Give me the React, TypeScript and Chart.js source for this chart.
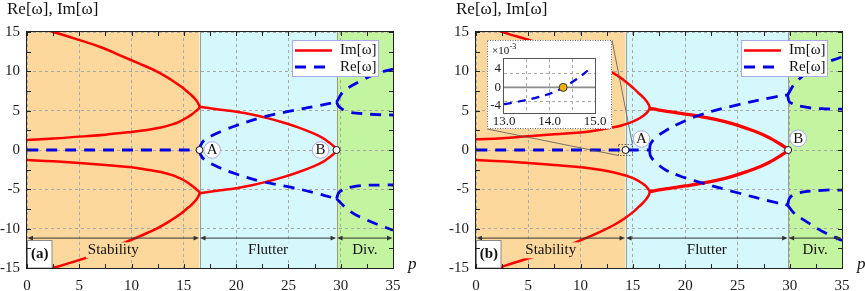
import React, { useEffect, useRef } from "react";
import { Chart, registerables } from "chart.js";

Chart.register(...registerables);

type Pt = [number, number];

// ---------- ticks & texts ----------
const P_TICKS = [0, 5, 10, 15, 20, 25, 30, 35];
const V_TICKS = [-15, -10, -5, 0, 5, 10, 15];
const AXIS_TITLE = "Re[ω], Im[ω]";
const P_LABEL = "p";
const LEGEND_LABELS = ["Im[ω]", "Re[ω]"];
const REGION_LABELS = ["Stability", "Flutter", "Div."];
const POINT_LABELS = ["A", "B"];

// ---------- panel (a) ----------
const A_BOUNDS = [0, 16.5, 29.6, 35];
const A_MARKERS: Pt[] = [[16.5, 0], [29.6, 0]];
const A_IM_UP: Pt[] = [[0, 1.27], [2.5, 1.45], [5, 1.7], [7.5, 1.95], [10, 2.3], [11.5, 2.55], [12.8, 2.85], [13.9, 3.25], [14.6, 3.62], [15.2, 4.05], [15.75, 4.5], [16.2, 5.0], [16.45, 5.3], [16.5, 5.5], [16.42, 5.8], [16.2, 6.3], [15.7, 7.0], [15.25, 7.5], [14.8, 8.0], [13.7, 9.0], [12.4, 10.0], [10.7, 11.0], [8.95, 12.0], [7.2, 13.0], [4.95, 14.0], [2.5, 15.0], [1.2, 15.5]];
const A_IM_DN: Pt[] = [[0, -1.27], [2.5, -1.42], [5, -1.65], [7.5, -1.9], [10, -2.2], [11.5, -2.5], [12.8, -2.8], [13.9, -3.2], [14.6, -3.58], [15.2, -4.0], [15.75, -4.5], [16.2, -5.0], [16.45, -5.3], [16.5, -5.5], [16.42, -5.8], [16.2, -6.3], [15.7, -7.0], [15.25, -7.5], [14.8, -8.0], [13.7, -9.0], [12.4, -10.0], [10.7, -11.0], [8.95, -12.0], [7.2, -13.0], [4.95, -14.0], [2.5, -15.0], [1.2, -15.5]];
const A_IM_FLUT: Pt[] = [[16.5, 5.5], [17.5, 5.3], [18.5, 5.12], [20, 4.87], [21.5, 4.52], [23, 4.05], [24.5, 3.5], [26, 2.85], [27.4, 2.1], [28.3, 1.5], [28.9, 0.95], [29.35, 0.45], [29.6, 0], [29.35, -0.45], [28.9, -0.95], [28.3, -1.5], [27.4, -2.08], [26, -2.8], [24.5, -3.45], [23, -4.0], [21.5, -4.48], [20, -4.85], [18.5, -5.12], [17.5, -5.3], [16.5, -5.5]];
const A_RE_ZERO: Pt[] = [[0, 0], [16.5, 0]];
const A_RE_UP: Pt[] = [[16.5, 0], [16.6, 0.6], [17, 1.3], [17.8, 1.9], [19, 2.6], [20, 3.1], [22.6, 4.2], [25, 4.9], [27.4, 5.5], [29.6, 6.1]];
const A_RE_DN: Pt[] = [[16.5, 0], [16.6, -0.6], [17, -1.25], [18.5, -2.3], [20, -3.05], [22.45, -4.0], [25.1, -4.7], [27.4, -5.4], [29.6, -6.2]];
const A_RE_DIV1: Pt[] = [[29.6, 6.1], [30.25, 7.4], [31.8, 8.7], [33.4, 9.7], [35, 10.3]];
const A_RE_DIV2: Pt[] = [[29.6, 6.1], [29.85, 5.5], [30.6, 4.9], [31.8, 4.65], [33.5, 4.5], [35, 4.45]];
const A_RE_DIV3: Pt[] = [[29.6, -6.2], [29.9, -5.3], [31.5, -4.6], [34, -4.45], [35, -4.45]];
const A_RE_DIV4: Pt[] = [[29.6, -6.2], [30.9, -7.8], [32.5, -8.9], [35, -10.2]];

// ---------- panel (b) ----------
const B_BOUNDS = [0, 14.3, 29.85, 35];
const B_MARKERS: Pt[] = [[14.3, 0], [29.85, 0]];
const B_IM_UP: Pt[] = [[0, 1.36], [2.5, 1.5], [5, 1.75], [7.5, 2.0], [10.5, 2.3], [12, 2.6], [13, 2.85], [13.9, 3.12], [14.7, 3.45], [15.4, 3.85], [16.0, 4.35], [16.4, 4.85], [16.6, 5.3], [16.5, 5.8], [16.25, 6.3], [15.9, 6.8], [15.5, 7.3], [15.1, 7.8], [14.2, 8.8], [13.1, 9.8], [11.4, 10.8], [9.6, 11.8], [7.7, 12.8], [5.5, 13.8], [3.0, 14.8], [1.8, 15.3]];
const B_IM_DN: Pt[] = [[0, -1.27], [2.5, -1.42], [5, -1.65], [7.5, -1.9], [10.5, -2.25], [12, -2.55], [13, -2.8], [13.9, -3.1], [14.7, -3.42], [15.4, -3.82], [16.0, -4.33], [16.4, -4.83], [16.6, -5.3], [16.5, -5.8], [16.25, -6.3], [15.9, -6.8], [15.5, -7.3], [15.1, -7.8], [14.2, -8.7], [13.1, -9.6], [11.4, -10.7], [9.6, -11.7], [7.7, -12.7], [5.2, -13.7], [2.8, -14.7], [1.8, -15.3]];
const B_IM_FLUT: Pt[] = [[16.6, 5.3], [17.5, 5.08], [18.5, 4.87], [20, 4.57], [21.5, 4.25], [23, 3.85], [24.5, 3.35], [26, 2.7], [27.2, 2.1], [28.2, 1.45], [28.9, 0.9], [29.5, 0.4], [29.85, 0], [29.5, -0.4], [28.9, -0.9], [28.2, -1.45], [27.2, -2.1], [26, -2.7], [24.5, -3.35], [23, -3.85], [21.5, -4.25], [20, -4.57], [18.5, -4.87], [17.5, -5.08], [16.6, -5.3]];
const B_RE_ZERO: Pt[] = [[0, 0], [16.6, 0]];
const B_RE_UP: Pt[] = [[16.6, 0], [16.7, 0.8], [17.3, 1.7], [18.2, 2.5], [19.5, 3.4], [21.4, 4.45], [24.9, 5.7], [28.4, 6.7], [29.8, 7.0]];
const B_RE_DN: Pt[] = [[16.6, 0], [16.7, -0.8], [17.3, -1.7], [18.1, -2.5], [19.5, -3.3], [21.4, -4.1], [25.2, -5.5], [28.4, -6.6], [29.8, -7.0]];
const B_RE_DIV1: Pt[] = [[29.8, 7.0], [30.65, 8.7], [32.6, 10.6], [35, 11.85]];
const B_RE_DIV2: Pt[] = [[29.8, 7.0], [30.0, 6.1], [31.3, 5.5], [33, 5.25], [35, 5.2]];
const B_RE_DIV3: Pt[] = [[29.8, -7.0], [30.0, -6.1], [30.65, -5.5], [33.5, -5.1], [35, -5.1]];
const B_RE_DIV4: Pt[] = [[29.8, -7.0], [30.4, -8.0], [31.6, -9.1], [33.2, -10.4], [35, -11.5]];

// ---------- inset (b), values ×10^-3 ----------
const INSET_X_TICKS = [13, 13.5, 14, 14.5, 15];
const INSET_Y_TICKS = [-4, -3, 0, 3, 4];
const INSET_RE: Pt[] = [[13.0, -3.6], [13.3, -3.1], [13.75, -2.1], [14.1, -1.0], [14.3, 0], [14.6, 1.8], [14.9, 4.1]];
const INSET_MARK: Pt[] = [[14.3, 0]];

// ---------- styles ----------
const FONT = "'Liberation Serif', 'Times New Roman', serif";
const RED = "#ff0000";
const BLUE = "#0000e2";
const REGION_COLORS = ["#fdd89c", "#d5f8fc", "#c3f5a1"];
const GRID = "#a8a8a8";
const DASH = [11, 8];
const ARROW_V = -11.2;
const REGION_TEXT_V = -12.75;
const INSET = { left: 38, top: 40, width: 125, height: 89 };

interface PanelCfg {
  tag: string;
  bounds: number[];
  markers: Pt[];
  im: { pts: Pt[]; width: number }[];
  re: Pt[][];
  labelOffsets: Pt[];
  rightPad: number;
  zoomPoint?: Pt;
}

const PANEL_A: PanelCfg = {
  tag: "(a)",
  bounds: A_BOUNDS,
  markers: A_MARKERS,
  im: [
    { pts: A_IM_UP, width: 2.5 },
    { pts: A_IM_DN, width: 2.5 },
    { pts: A_IM_FLUT, width: 2.5 },
  ],
  re: [A_RE_ZERO, A_RE_UP, A_RE_DN, A_RE_DIV1, A_RE_DIV2, A_RE_DIV3, A_RE_DIV4],
  labelOffsets: [[12.6, 0], [-16, 0]],
  rightPad: 39,
};

const PANEL_B: PanelCfg = {
  tag: "(b)",
  bounds: B_BOUNDS,
  markers: B_MARKERS,
  im: [
    { pts: B_IM_UP, width: 2.5 },
    { pts: B_IM_DN, width: 2.5 },
    { pts: B_IM_FLUT, width: 3.3 },
  ],
  re: [B_RE_ZERO, B_RE_UP, B_RE_DN, B_RE_DIV1, B_RE_DIV2, B_RE_DIV3, B_RE_DIV4],
  labelOffsets: [[16, -11], [10, -11.7]],
  rightPad: 23,
  zoomPoint: [14.3, 0],
};

function lineDs(label: string, pts: Pt[], color: string, width: number, dash: number[] = []) {
  return {
    label,
    data: pts.map(([x, y]) => ({ x, y })),
    borderColor: color,
    backgroundColor: color,
    borderWidth: width,
    borderDash: dash,
    pointRadius: 0,
    pointHoverRadius: 0,
    showLine: true,
    tension: 0.4,
    fill: false,
  };
}

function drawArrow(ctx: CanvasRenderingContext2D, x0: number, x1: number, y: number) {
  ctx.beginPath();
  ctx.moveTo(x0 + 3, y);
  ctx.lineTo(x1 - 3, y);
  ctx.stroke();
  ctx.beginPath();
  ctx.moveTo(x0 + 0.5, y);
  ctx.lineTo(x0 + 6, y - 2.3);
  ctx.lineTo(x0 + 6, y + 2.3);
  ctx.closePath();
  ctx.fill();
  ctx.beginPath();
  ctx.moveTo(x1 - 0.5, y);
  ctx.lineTo(x1 - 6, y - 2.3);
  ctx.lineTo(x1 - 6, y + 2.3);
  ctx.closePath();
  ctx.fill();
}

function panelPlugin(p: PanelCfg) {
  return {
    id: "panelDeco",
    beforeDraw(chart: any) {
      const { ctx, chartArea: ca } = chart;
      const x = chart.scales.x;
      ctx.save();
      ctx.fillStyle = "#fff";
      ctx.fillRect(0, 0, chart.width, chart.height);
      for (let i = 0; i < 3; i++) {
        const x0 = x.getPixelForValue(p.bounds[i]);
        const x1 = x.getPixelForValue(p.bounds[i + 1]);
        ctx.fillStyle = REGION_COLORS[i];
        ctx.fillRect(x0, ca.top, x1 - x0, ca.bottom - ca.top);
      }
      ctx.strokeStyle = "#9c9c9c";
      ctx.lineWidth = 1;
      for (const b of [p.bounds[1], p.bounds[2]]) {
        const xx = Math.round(x.getPixelForValue(b)) + 0.5;
        ctx.beginPath();
        ctx.moveTo(xx, ca.top);
        ctx.lineTo(xx, ca.bottom);
        ctx.stroke();
      }
      ctx.restore();
    },
    afterDatasetsDraw(chart: any) {
      const { ctx, chartArea: ca } = chart;
      const x = chart.scales.x;
      const y = chart.scales.y;
      ctx.save();

      if (p.zoomPoint) {
        const cx = x.getPixelForValue(p.zoomPoint[0]);
        const cy = y.getPixelForValue(p.zoomPoint[1]);
        const bx0 = cx - 7, bx1 = cx + 7, by0 = cy - 5.5, by1 = cy + 5.5;
        ctx.strokeStyle = "#444";
        ctx.lineWidth = 0.8;
        ctx.setLineDash([1.5, 1.5]);
        ctx.strokeRect(bx0, by0, bx1 - bx0, by1 - by0);
        ctx.setLineDash([]);
        ctx.strokeStyle = "#555";
        ctx.beginPath();
        ctx.moveTo(INSET.left, INSET.top + INSET.height);
        ctx.lineTo(bx0, by1);
        ctx.moveTo(INSET.left + INSET.width, INSET.top);
        ctx.lineTo(bx1, by0);
        ctx.stroke();
      }

      p.markers.forEach((m, i) => {
        const mx = x.getPixelForValue(m[0]) + p.labelOffsets[i][0];
        const my = y.getPixelForValue(m[1]) + p.labelOffsets[i][1];
        ctx.beginPath();
        ctx.arc(mx, my, 8.3, 0, Math.PI * 2);
        ctx.fillStyle = "#fff";
        ctx.fill();
        ctx.strokeStyle = "#a9a9ee";
        ctx.lineWidth = 1;
        ctx.stroke();
        ctx.fillStyle = "#111";
        ctx.font = `15px ${FONT}`;
        ctx.textAlign = "center";
        ctx.textBaseline = "middle";
        ctx.fillText(POINT_LABELS[i], mx, my + 0.5);
      });

      const ay = y.getPixelForValue(ARROW_V);
      const ty = y.getPixelForValue(REGION_TEXT_V);
      ctx.strokeStyle = "#333";
      ctx.lineWidth = 1;
      for (let i = 0; i < 3; i++) {
        const x0 = x.getPixelForValue(p.bounds[i]);
        const x1 = x.getPixelForValue(p.bounds[i + 1]);
        ctx.fillStyle = "#333";
        drawArrow(ctx, x0, x1, ay);
        const cx = (x0 + x1) / 2;
        ctx.font = `15px ${FONT}`;
        const w = ctx.measureText(REGION_LABELS[i]).width;
        ctx.fillStyle = REGION_COLORS[i];
        ctx.fillRect(cx - w / 2 - 2, ty - 8, w + 4, 16);
        ctx.fillStyle = "#111";
        ctx.textAlign = "center";
        ctx.textBaseline = "middle";
        ctx.fillText(REGION_LABELS[i], cx, ty);
      }

      ctx.fillStyle = "#fff";
      ctx.fillRect(ca.left, ca.bottom - 28, 25, 28);
      ctx.strokeStyle = "#8a8a8a";
      ctx.lineWidth = 1;
      ctx.strokeRect(ca.left + 0.5, ca.bottom - 27.5, 24.5, 27.5);
      ctx.fillStyle = "#111";
      ctx.font = `bold 15px ${FONT}`;
      ctx.textAlign = "center";
      ctx.textBaseline = "middle";
      ctx.fillText(p.tag, ca.left + 12.8, ca.bottom - 13.5);

      const lw = 87, lh = 37;
      const lx = Math.round(ca.right - 14 - lw), ly = Math.round(ca.top + 8);
      ctx.fillStyle = "#fff";
      ctx.fillRect(lx, ly, lw, lh);
      ctx.strokeStyle = "#a9a9ee";
      ctx.strokeRect(lx + 0.5, ly + 0.5, lw - 1, lh - 1);
      const rows = [ly + 10.5, ly + 27];
      ctx.lineWidth = 2.5;
      ctx.strokeStyle = RED;
      ctx.beginPath();
      ctx.moveTo(lx + 3, rows[0]);
      ctx.lineTo(lx + 40, rows[0]);
      ctx.stroke();
      ctx.strokeStyle = BLUE;
      ctx.lineWidth = 2.8;
      ctx.setLineDash(DASH);
      ctx.beginPath();
      ctx.moveTo(lx + 3, rows[1]);
      ctx.lineTo(lx + 40, rows[1]);
      ctx.stroke();
      ctx.setLineDash([]);
      ctx.fillStyle = "#111";
      ctx.font = `15px ${FONT}`;
      ctx.textAlign = "left";
      ctx.textBaseline = "middle";
      ctx.fillText(LEGEND_LABELS[0], lx + 48, rows[0]);
      ctx.fillText(LEGEND_LABELS[1], lx + 48, rows[1]);

      ctx.strokeStyle = "#222";
      ctx.lineWidth = 1;
      ctx.strokeRect(ca.left - 0.5, ca.top - 0.5, ca.right - ca.left + 1, ca.bottom - ca.top + 1);

      ctx.beginPath();
      for (let v = x.min; v <= x.max + 1e-9; v += 2.5) {
        const px = Math.round(x.getPixelForValue(v)) + 0.5;
        ctx.moveTo(px, ca.bottom);
        ctx.lineTo(px, ca.bottom - 4);
        ctx.moveTo(px, ca.top);
        ctx.lineTo(px, ca.top + 4);
      }
      for (let v = y.min; v <= y.max + 1e-9; v += 2.5) {
        const py = Math.round(y.getPixelForValue(v)) + 0.5;
        ctx.moveTo(ca.left, py);
        ctx.lineTo(ca.left + 4, py);
        ctx.moveTo(ca.right, py);
        ctx.lineTo(ca.right - 4, py);
      }
      ctx.stroke();
      ctx.restore();
    },
    afterDraw(chart: any) {
      const { ctx, chartArea: ca } = chart;
      ctx.save();
      ctx.fillStyle = "#111";
      ctx.font = `17px ${FONT}`;
      ctx.textAlign = "left";
      ctx.textBaseline = "alphabetic";
      ctx.fillText(AXIS_TITLE, 7, 14);
      ctx.font = `italic 17px ${FONT}`;
      ctx.fillText(P_LABEL, ca.right + 15, ca.bottom + 0.5);
      ctx.restore();
    },
  };
}

function panelConfig(p: PanelCfg): any {
  const datasets: any[] = [];
  datasets.push({
    label: "markers",
    data: p.markers.map(([x, y]) => ({ x, y })),
    pointRadius: 3.5,
    pointBackgroundColor: "#fff",
    pointBorderColor: "#111",
    pointBorderWidth: 1,
    showLine: false,
  });
  p.re.forEach((pts) => datasets.push(lineDs(LEGEND_LABELS[1], pts, BLUE, 2.8, DASH)));
  p.im.forEach((c) => datasets.push(lineDs(LEGEND_LABELS[0], c.pts, RED, c.width)));

  const tickFont = { family: FONT, size: 15 };
  return {
    type: "scatter",
    data: { datasets },
    options: {
      responsive: false,
      animation: false,
      devicePixelRatio: 1,
      events: [],
      layout: { padding: { top: 32, right: p.rightPad, left: 0, bottom: 0 } },
      plugins: { legend: { display: false }, tooltip: { enabled: false }, title: { display: false } },
      scales: {
        x: {
          type: "linear",
          min: 0,
          max: 35,
          afterBuildTicks: (s: any) => {
            s.ticks = P_TICKS.map((v) => ({ value: v }));
          },
          afterFit: (s: any) => {
            s.height = 23;
          },
          grid: { color: GRID, lineWidth: 1, drawTicks: false, borderDash: [3, 3] },
          border: { display: false, dash: [3, 3] },
          ticks: {
            font: tickFont,
            color: "#1a1a1a",
            padding: 9,
            maxRotation: 0,
            autoSkip: false,
            callback: (v: any) => String(v),
          },
        },
        y: {
          type: "linear",
          min: -15,
          max: 15,
          afterBuildTicks: (s: any) => {
            s.ticks = V_TICKS.map((v) => ({ value: v }));
          },
          afterFit: (s: any) => {
            s.width = 27;
          },
          grid: { color: GRID, lineWidth: 1, drawTicks: false, borderDash: [3, 3] },
          border: { display: false, dash: [3, 3] },
          ticks: {
            font: tickFont,
            color: "#1a1a1a",
            padding: 7,
            autoSkip: false,
            callback: (v: any) => String(v),
          },
        },
      },
    },
    plugins: [panelPlugin(p)],
  };
}

const insetPlugin = {
  id: "insetDeco",
  beforeDraw(chart: any) {
    const { ctx } = chart;
    ctx.save();
    ctx.fillStyle = "#fff";
    ctx.fillRect(0, 0, chart.width, chart.height);
    ctx.restore();
  },
  beforeDatasetsDraw(chart: any) {
    const { ctx, chartArea: ca } = chart;
    const y0 = chart.scales.y.getPixelForValue(0);
    ctx.save();
    ctx.strokeStyle = "#8c8c8c";
    ctx.lineWidth = 1.6;
    ctx.beginPath();
    ctx.moveTo(ca.left, y0);
    ctx.lineTo(ca.right, y0);
    ctx.stroke();
    ctx.restore();
  },
  afterDraw(chart: any) {
    const { ctx, chartArea: ca } = chart;
    ctx.save();
    ctx.strokeStyle = "#555";
    ctx.lineWidth = 1;
    ctx.strokeRect(ca.left - 0.5, ca.top - 0.5, ca.right - ca.left + 1, ca.bottom - ca.top + 1);
    ctx.strokeStyle = "#666";
    ctx.setLineDash([1, 1.5]);
    ctx.strokeRect(0.5, 0.5, chart.width - 1, chart.height - 1);
    ctx.setLineDash([]);
    ctx.fillStyle = "#111";
    ctx.font = `11px ${FONT}`;
    ctx.textAlign = "left";
    ctx.textBaseline = "alphabetic";
    ctx.fillText("×10", 5, 13.5);
    const w = ctx.measureText("×10").width;
    ctx.font = `8px ${FONT}`;
    ctx.fillText("-3", 5 + w + 0.5, 9);
    ctx.restore();
  },
};

function insetConfig(): any {
  const tickFont = { family: FONT, size: 13 };
  return {
    type: "scatter",
    data: {
      datasets: [
        {
          label: "mark",
          data: INSET_MARK.map(([x, y]) => ({ x, y })),
          pointRadius: 4,
          pointBackgroundColor: "#f2b100",
          pointBorderColor: "#333",
          pointBorderWidth: 1,
          showLine: false,
        },
        lineDs(LEGEND_LABELS[1], INSET_RE, BLUE, 2.2, [8, 6]),
      ],
    },
    options: {
      responsive: false,
      animation: false,
      devicePixelRatio: 1,
      events: [],
      layout: { padding: { top: 19, right: 17, left: 0, bottom: 0 } },
      plugins: { legend: { display: false }, tooltip: { enabled: false } },
      scales: {
        x: {
          type: "linear",
          min: 13,
          max: 15,
          afterBuildTicks: (s: any) => {
            s.ticks = INSET_X_TICKS.map((v) => ({ value: v }));
          },
          afterFit: (s: any) => {
            s.height = 16;
          },
          grid: {
            color: (c: any) => (c.tick && (c.tick.value === 13 || c.tick.value === 15) ? "rgba(0,0,0,0)" : GRID),
            drawTicks: false,
            borderDash: [3, 3],
          },
          border: { display: false, dash: [3, 3] },
          ticks: {
            font: tickFont,
            color: "#1a1a1a",
            padding: 1,
            maxRotation: 0,
            autoSkip: false,
            callback: (v: any) => (Number.isInteger(v) ? Number(v).toFixed(1) : ""),
          },
        },
        y: {
          type: "linear",
          min: -5.5,
          max: 6.1,
          afterBuildTicks: (s: any) => {
            s.ticks = INSET_Y_TICKS.map((v) => ({ value: v }));
          },
          afterFit: (s: any) => {
            s.width = 17;
          },
          grid: {
            color: (c: any) => (c.tick && Math.abs(c.tick.value) === 3 ? GRID : "rgba(0,0,0,0)"),
            drawTicks: false,
            borderDash: [3, 3],
          },
          border: { display: false, dash: [3, 3] },
          ticks: {
            font: tickFont,
            color: "#1a1a1a",
            padding: 3,
            autoSkip: false,
            callback: (v: any) => (Math.abs(v) === 3 ? "" : String(v)),
          },
        },
      },
    },
    plugins: [insetPlugin],
  };
}

export default function App() {
  const refA = useRef<HTMLCanvasElement>(null);
  const refB = useRef<HTMLCanvasElement>(null);
  const refI = useRef<HTMLCanvasElement>(null);

  useEffect(() => {
    const charts: Chart[] = [];
    if (refA.current) charts.push(new Chart(refA.current, panelConfig(PANEL_A)));
    if (refB.current) charts.push(new Chart(refB.current, panelConfig(PANEL_B)));
    if (refI.current) charts.push(new Chart(refI.current, insetConfig()));
    return () => charts.forEach((c) => c.destroy());
  }, []);

  return (
    <div style={{ position: "absolute", left: 0, top: 0, width: 865, height: 291, background: "#fff", overflow: "hidden" }}>
      <canvas ref={refA} width={432} height={291} style={{ position: "absolute", left: 0, top: 0, width: 432, height: 291 }} />
      <canvas ref={refB} width={416} height={291} style={{ position: "absolute", left: 449, top: 0, width: 416, height: 291 }} />
      <canvas
        ref={refI}
        width={INSET.width}
        height={INSET.height}
        style={{ position: "absolute", left: 449 + INSET.left, top: INSET.top, width: INSET.width, height: INSET.height }}
      />
    </div>
  );
}
